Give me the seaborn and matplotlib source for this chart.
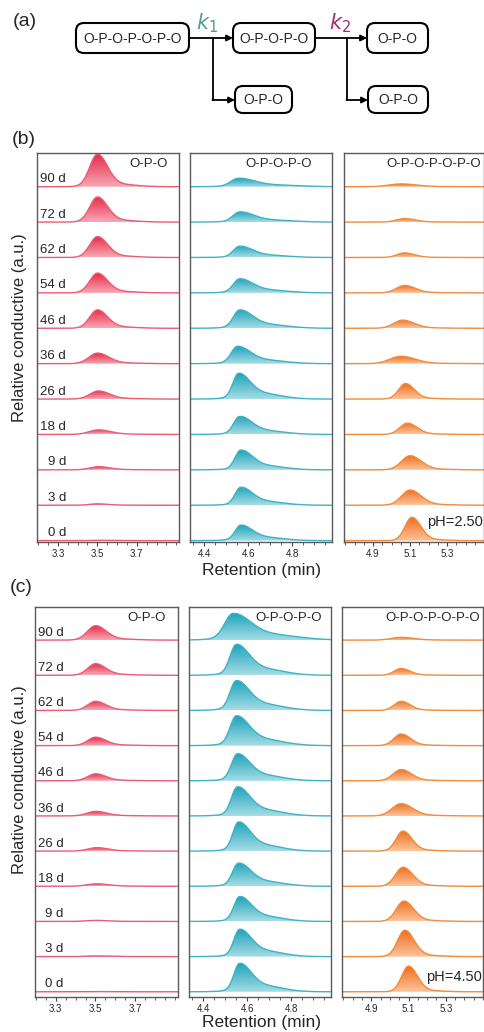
import numpy as np
import pandas as pd
import matplotlib
matplotlib.use("Agg")
from matplotlib import pyplot as plt
from matplotlib.patches import FancyBboxPatch
from matplotlib.colors import LinearSegmentedColormap
from matplotlib.ticker import MultipleLocator
import seaborn as sns

sns.set_theme(style="white")
plt.rcParams['font.family'] = ['Liberation Sans', 'DejaVu Sans']

# rows from bottom (0 d) to top (90 d)
days = ["0 d", "3 d", "9 d", "18 d", "26 d", "36 d", "46 d", "54 d", "62 d", "72 d", "90 d"]

# panel (b), pH 2.50 : peak heights, centres (min) and width factors
b_opo_h = [0.01, 0.04, 0.09, 0.13, 0.23, 0.30, 0.52, 0.56, 0.59, 0.71, 0.92]
b_opo_c = [3.50, 3.50, 3.505, 3.505, 3.505, 3.50, 3.50, 3.50, 3.50, 3.50, 3.50]
b_opo_w = [1.0, 1.0, 1.1, 1.2, 1.1, 1.1, 1.0, 1.0, 1.0, 1.0, 1.0]
b_opopo_h = [0.44, 0.51, 0.56, 0.51, 0.73, 0.49, 0.52, 0.40, 0.32, 0.29, 0.24]
b_opopo_c = [4.565, 4.565, 4.565, 4.56, 4.555, 4.55, 4.56, 4.56, 4.56, 4.56, 4.555]
b_opopo_w = [1.0, 1.0, 1.0, 1.05, 1.0, 1.1, 1.1, 1.1, 1.1, 1.2, 1.35]
b_opopopo_h = [0.66, 0.43, 0.40, 0.32, 0.44, 0.21, 0.23, 0.21, 0.13, 0.10, 0.08]
b_opopopo_c = [5.11, 5.10, 5.10, 5.085, 5.075, 5.05, 5.06, 5.07, 5.07, 5.07, 5.05]
b_opopopo_w = [1.0, 1.25, 1.25, 1.1, 1.0, 1.6, 1.3, 1.2, 1.1, 1.2, 1.7]

# panel (c), pH 4.50
c_opo_h = [0.005, 0.02, 0.03, 0.07, 0.10, 0.13, 0.20, 0.24, 0.26, 0.33, 0.41]
c_opo_c = [3.50, 3.50, 3.50, 3.505, 3.505, 3.50, 3.50, 3.50, 3.50, 3.50, 3.50]
c_opo_w = [1.0, 1.2, 1.2, 1.2, 1.1, 1.1, 1.0, 1.0, 1.0, 1.0, 1.05]
c_opopo_h = [0.81, 0.78, 0.71, 0.66, 0.83, 0.83, 0.77, 0.85, 0.85, 0.88, 0.76]
c_opopo_c = [4.565, 4.565, 4.565, 4.56, 4.56, 4.555, 4.555, 4.55, 4.55, 4.55, 4.535]
c_opopo_w = [1.0, 1.0, 1.0, 1.05, 1.0, 1.05, 1.05, 1.1, 1.1, 1.1, 1.5]
c_opopopo_h = [0.73, 0.75, 0.58, 0.54, 0.57, 0.35, 0.32, 0.33, 0.26, 0.19, 0.08]
c_opopopo_c = [5.10, 5.08, 5.075, 5.07, 5.07, 5.06, 5.06, 5.06, 5.06, 5.06, 5.06]
c_opopopo_w = [1.0, 1.05, 1.1, 1.1, 1.0, 1.3, 1.15, 1.05, 1.0, 1.0, 1.4]

species = ["O-P-O", "O-P-O-P-O", "O-P-O-P-O-P-O"]
xlims = [(3.194, 3.914), (4.336, 4.98), (4.743, 5.50)]
major_ticks = [[3.3, 3.5, 3.7], [4.4, 4.6, 4.8], [4.9, 5.1, 5.3]]

# peak shape per species: left sigma, right sigma, tail fraction
shapes = [(0.039, 0.05, 0.08), (0.025, 0.05, 0.25), (0.037, 0.047, 0.05)]
colors = [("#f8a8b6", "#e62b48", "#ec5a73"),
          ("#a6dce5", "#1fa3ba", "#3fb2c5"),
          ("#fcc49c", "#ef6f1c", "#f38a3c")]


def peak(x, h, c, sl, sr, tail):
    s = np.where(x < c, sl, sr)
    g = np.exp(-0.5 * ((x - c) / s) ** 2)
    g2 = np.exp(-0.5 * ((x - c - 2.0 * sr) / (1.8 * sr)) ** 2)
    y = g + tail * g2
    return h * y / y.max()


def draw_panel(ax, k, heights, centers, widths, ylim):
    sl, sr, tail = shapes[k]
    light, dark, line = colors[k]
    cmap = LinearSegmentedColormap.from_list("g%d" % k, [light, dark])
    x = np.linspace(xlims[k][0], xlims[k][1], 600)
    rows = []
    for i, (h, c, w) in enumerate(zip(heights, centers, widths)):
        y = peak(x, h, c, sl * w, sr * w, tail)
        rows.append(pd.DataFrame({"x": x, "y": i + y, "day": days[i]}))
        poly = ax.fill_between(x, i, i + y, facecolor="none", edgecolor="none")
        grad = np.linspace(0, 1, 128).reshape(-1, 1)
        im = ax.imshow(grad, extent=[x[0], x[-1], i, i + max(h, 0.01)], origin="lower",
                       aspect="auto", cmap=cmap, zorder=1, interpolation="bilinear")
        im.set_clip_path(poly.get_paths()[0], transform=ax.transData)
    df = pd.concat(rows)
    sns.lineplot(data=df, x="x", y="y", units="day", estimator=None, sort=False,
                 color=line, lw=1.0, ax=ax, legend=False, zorder=2)
    ax.set_xlim(*xlims[k])
    ax.set_ylim(*ylim)
    ax.set_xticks(major_ticks[k])
    ax.set_xticklabels(["%.1f" % t for t in major_ticks[k]])
    ax.xaxis.set_minor_locator(MultipleLocator(0.05))
    ax.set_yticks([])
    ax.set_xlabel("")
    ax.set_ylabel("")
    ax.tick_params(axis="x", which="major", direction="out", length=3, width=0.8,
                   color="#444444", labelsize=7, pad=2, bottom=True)
    ax.tick_params(axis="x", which="minor", direction="out", length=1.8, width=0.6,
                   color="#444444", bottom=True)
    for sp in ax.spines.values():
        sp.set_color("#5a5a5a")
        sp.set_linewidth(1.0)


fig = plt.figure(figsize=(4.85, 10.32), dpi=100)

# overlay in pixel coordinates for scheme (a) and figure texts
ov = fig.add_axes([0, 0, 1, 1])
ov.set_xlim(0, 485)
ov.set_ylim(1032, 0)
ov.axis("off")

boxes = [(76, 23, 113, 30, "O-P-O-P-O-P-O"), (233, 23, 82, 30, "O-P-O-P-O"),
         (367, 23, 61, 30, "O-P-O"), (235, 86, 57, 27, "O-P-O"), (368, 86, 60, 27, "O-P-O")]
for bx, by, bw, bh, txt in boxes:
    ov.add_patch(FancyBboxPatch((bx, by), bw, bh, boxstyle="round,pad=0,rounding_size=8",
                                lw=1.5, ec="black", fc="white"))
    ov.text(bx + bw / 2, by + bh / 2 + 1, txt, ha="center", va="center", fontsize=10)

arrow = dict(arrowstyle="-|>", lw=1.3, color="black", mutation_scale=9, shrinkA=0, shrinkB=0)
for x0, x1, xb, x2 in [(189, 233, 213, 235), (315, 367, 347, 368)]:
    ov.annotate("", xy=(x1, 38), xytext=(x0, 38), arrowprops=arrow)
    ov.plot([xb, xb], [38, 100], color="black", lw=1.3)
    ov.annotate("", xy=(x2, 100), xytext=(xb - 0.6, 100), arrowprops=arrow)
ov.text(207, 23, r"$k_1$", color="#4f9c8e", fontsize=15, ha="center", va="center")
ov.text(340, 23, r"$k_2$", color="#9b2e6e", fontsize=15, ha="center", va="center")

ov.text(25, 21, "(a)", fontsize=14, ha="center", va="center")
ov.text(24, 140, "(b)", fontsize=14, ha="center", va="center")
ov.text(21, 587, "(c)", fontsize=14, ha="center", va="center")

for yc in [328, 780]:
    ov.text(20, yc, "Relative conductive (a.u.)", rotation=90, fontsize=12,
            ha="center", va="center")
for yc in [571, 1022]:
    ov.text(262, yc, "Retention (min)", fontsize=12.5, ha="center", va="center")

# axes rectangles [left, bottom, width, height] in figure fractions
rect_b = [[0.0763, 0.4751, 0.2928, 0.3769], [0.3918, 0.4751, 0.2928, 0.3769],
          [0.7093, 0.4751, 0.2887, 0.3769]]
rect_c = [[0.0715, 0.0342, 0.2948, 0.3779], [0.3897, 0.0342, 0.2922, 0.3779],
          [0.7052, 0.0342, 0.2907, 0.3779]]

data_b = [(b_opo_h, b_opo_c, b_opo_w), (b_opopo_h, b_opopo_c, b_opopo_w),
          (b_opopopo_h, b_opopopo_c, b_opopopo_w)]
data_c = [(c_opo_h, c_opo_c, c_opo_w), (c_opopo_h, c_opopo_c, c_opopo_w),
          (c_opopopo_h, c_opopopo_c, c_opopopo_w)]

title_x_b = [0.922, 0.859, 0.98]
title_x_c = [0.916, 0.936, 0.977]

for rects, data, ylim, tx, ph in [(rect_b, data_b, (-0.03, 10.96), title_x_b, "pH=2.50"),
                                  (rect_c, data_c, (-0.14, 10.95), title_x_c, "pH=4.50")]:
    for k in range(3):
        ax = fig.add_axes(rects[k])
        draw_panel(ax, k, *data[k], ylim)
        ax.text(tx[k], 0.972, species[k], transform=ax.transAxes, ha="right",
                va="center", fontsize=9.5)
        if k == 0:
            for i, d in enumerate(days):
                ax.text(0.204, i + 0.04, d, transform=ax.get_yaxis_transform(),
                        ha="right", va="bottom", fontsize=9.5)
        if k == 2:
            ax.text(0.99, 0.05, ph, transform=ax.transAxes, ha="right", va="center",
                    fontsize=10.5)

fig.savefig("out.png", dpi=100)
